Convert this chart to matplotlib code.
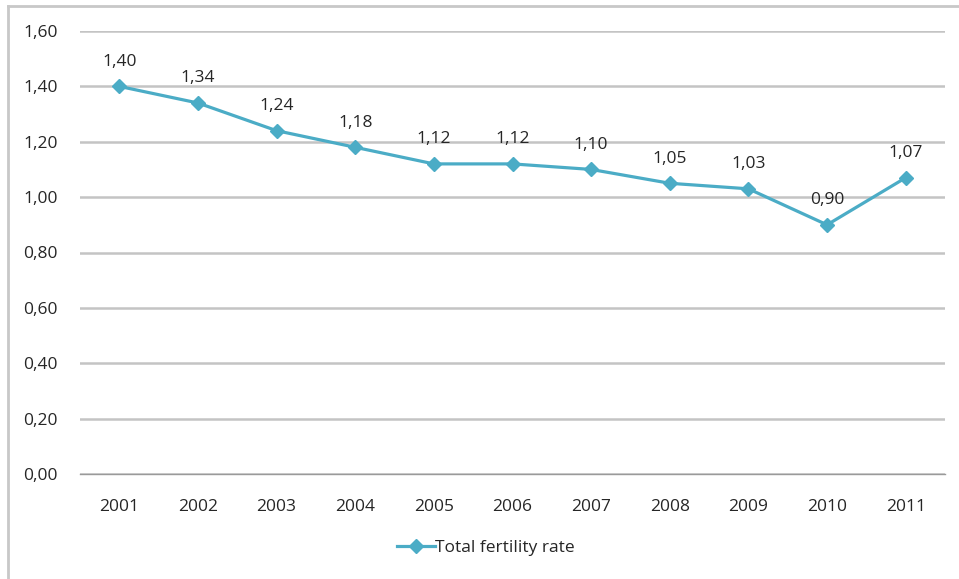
import matplotlib.pyplot as plt
from matplotlib.ticker import FuncFormatter

plt.rcParams['font.family'] = ['Open Sans', 'DejaVu Sans']

years = ['2001', '2002', '2003', '2004', '2005', '2006', '2007', '2008', '2009', '2010', '2011']
fertility = [1.40, 1.34, 1.24, 1.18, 1.12, 1.12, 1.10, 1.05, 1.03, 0.90, 1.07]
y_ticks = [0.0, 0.2, 0.4, 0.6, 0.8, 1.0, 1.2, 1.4, 1.6]

txt = '#262626'

def comma(v, pos=None):
    return ('%.2f' % v).replace('.', ',')

fig = plt.figure(figsize=(9.59, 5.79), dpi=100)
ax = fig.add_axes([80 / 959, 1 - 474 / 579, 865 / 959, 443 / 579])

# outer chart frame (left and top edges only show)
fig.add_artist(plt.Line2D([8 / 959, 8 / 959], [0, 1 - 6 / 579], color='#c8c8c8', lw=2))
fig.add_artist(plt.Line2D([8 / 959, 1], [1 - 6 / 579, 1 - 6 / 579], color='#c8c8c8', lw=2))

x = range(len(years))
line, = ax.plot(x, fertility, color='#4bacc6', lw=2.3, marker='D', markersize=7,
                label='Total fertility rate')

for i, v in enumerate(fertility):
    ax.annotate(comma(v), (i, v), xytext=(0, 12), textcoords='offset points',
                ha='center', va='bottom', fontsize=12.5, color=txt)

ax.set_xlim(-0.5, len(years) - 0.5)
ax.set_ylim(0, 1.6)
ax.set_yticks(y_ticks)
ax.yaxis.set_major_formatter(FuncFormatter(comma))
ax.set_xticks(list(x))
ax.set_xticklabels(years)
ax.grid(axis='y', color='#c4c4c4', lw=1.8)
ax.set_axisbelow(True)
for s in ax.spines.values():
    s.set_visible(False)
ax.spines['bottom'].set_visible(True)
ax.spines['bottom'].set_color('#9a9a9a')
ax.spines['bottom'].set_linewidth(1.0)
ax.tick_params(length=0, labelsize=12.5, colors=txt)
ax.tick_params(axis='x', pad=18)
ax.tick_params(axis='y', pad=16)

fig.legend(handles=[line], loc='center', bbox_to_anchor=(486 / 959, 1 - 548 / 579),
           frameon=False, fontsize=12.5, handlelength=2.2, handletextpad=0.0,
           labelcolor=txt)

fig.savefig('out.png', dpi=100)
